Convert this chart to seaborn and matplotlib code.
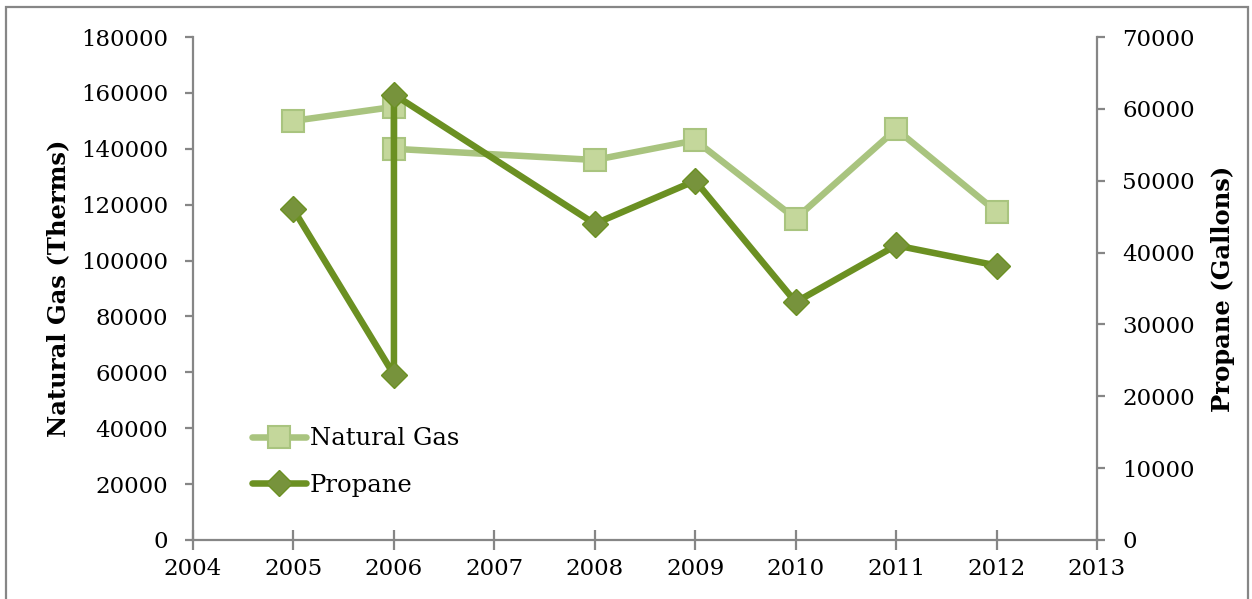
import matplotlib
matplotlib.use("Agg")
import matplotlib.pyplot as plt
import seaborn as sns
import pandas as pd
from matplotlib.lines import Line2D
from matplotlib.patches import Rectangle

# Data
gas_years = [2005, 2006, 2006, 2008, 2009, 2010, 2011, 2012]
gas_therms = [150000, 155000, 140000, 136000, 143000, 115000, 147000, 117500]
propane_years = [2005, 2006, 2006, 2008, 2009, 2010, 2011, 2012]
propane_gallons = [46000, 23000, 62000, 44000, 50000, 33100, 41000, 38200]
x_ticks = list(range(2004, 2014))
left_ticks = list(range(0, 180001, 20000))
right_ticks = list(range(0, 70001, 10000))

sns.set_style("white")
plt.rcParams['font.family'] = ['DejaVu Serif']
plt.rcParams['text.color'] = 'black'
plt.rcParams['axes.labelcolor'] = 'black'
plt.rcParams['xtick.color'] = 'black'
plt.rcParams['ytick.color'] = 'black'

GAS_LINE = "#A9C47F"
GAS_FILL = "#C4D79B"
PRO_LINE = "#6B9022"
PRO_FILL = "#77933C"
SPINE = "#868686"

fig = plt.figure(figsize=(12.52, 5.99), dpi=100)
ax = fig.add_axes([0.1542, 0.0985, 0.722, 0.8397])
ax2 = ax.twinx()

gas_df = pd.DataFrame({"year": gas_years, "val": gas_therms})
pro_df = pd.DataFrame({"year": propane_years, "val": propane_gallons})

sns.lineplot(data=gas_df, x="year", y="val", ax=ax, sort=False, estimator=None,
             color=GAS_LINE, linewidth=4.7, marker="s", markersize=16,
             markerfacecolor=GAS_FILL, markeredgecolor=GAS_LINE, markeredgewidth=1.5)
sns.lineplot(data=pro_df, x="year", y="val", ax=ax2, sort=False, estimator=None,
             color=PRO_LINE, linewidth=4.7, marker="D", markersize=13.5,
             markerfacecolor=PRO_FILL, markeredgecolor=PRO_LINE, markeredgewidth=1.0)

ax.set_xlim(2004, 2013)
ax.set_ylim(0, 180000)
ax2.set_ylim(0, 70000)
ax.set_xticks(x_ticks)
ax.set_xticklabels([str(t) for t in x_ticks])
ax.set_yticks(left_ticks)
ax.set_yticklabels([str(t) for t in left_ticks])
ax2.set_yticks(right_ticks)
ax2.set_yticklabels([str(t) for t in right_ticks])

ax.set_xlabel("")
ax.set_ylabel("Natural Gas (Therms)", fontsize=17.5, fontweight="bold", labelpad=8)
ax2.set_ylabel("Propane (Gallons)", fontsize=17.5, fontweight="bold", labelpad=12)

for a in (ax, ax2):
    a.spines["top"].set_visible(False)
    for s in ("left", "right", "bottom"):
        a.spines[s].set_color(SPINE)
        a.spines[s].set_linewidth(1.6)
    a.grid(False)

ax.spines["right"].set_visible(False)
ax2.spines["left"].set_visible(False)
ax2.spines["bottom"].set_visible(False)

ax.tick_params(axis="y", direction="out", length=6, width=1.6, color=SPINE,
               labelcolor="black", labelsize=16.5, pad=12, left=True)
ax.tick_params(axis="x", direction="inout", length=14, width=1.6, color=SPINE,
               labelcolor="black", labelsize=16.5, pad=6, bottom=True)
ax2.tick_params(axis="y", direction="out", length=6, width=1.6, color=SPINE,
                labelcolor="black", labelsize=16.5, pad=12, right=True)

handles = [
    Line2D([], [], color=GAS_LINE, linewidth=4.7, marker="s", markersize=16,
           markerfacecolor=GAS_FILL, markeredgecolor=GAS_LINE, markeredgewidth=1.5),
    Line2D([], [], color=PRO_LINE, linewidth=4.7, marker="D", markersize=13.5,
           markerfacecolor=PRO_FILL, markeredgecolor=PRO_LINE, markeredgewidth=1.0),
]
if ax.get_legend():
    ax.get_legend().remove()
ax2.legend(handles, ["Natural Gas", "Propane"], loc="lower left",
           bbox_to_anchor=(0.055, 0.067), frameon=False, fontsize=17.5,
           labelcolor="black",
           handlelength=2.2, handletextpad=0.15, labelspacing=0.95, borderaxespad=0)

fig.patches.append(Rectangle((6 / 1252, -0.05), (1248 - 6) / 1252, 1 - 7 / 599 + 0.05,
                             transform=fig.transFigure, fill=False,
                             edgecolor=SPINE, linewidth=1.6, zorder=-1))

fig.savefig("out.png", dpi=100)
